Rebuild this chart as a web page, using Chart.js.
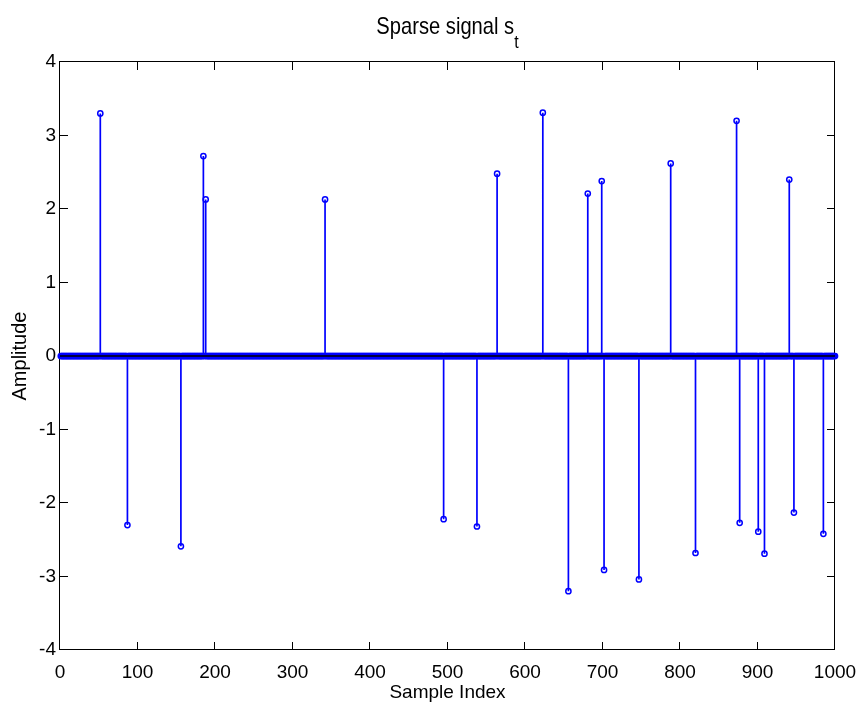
<!DOCTYPE html>
<html>
<head>
<meta charset="utf-8">
<script src="https://cdn.jsdelivr.net/npm/chart.js@4/dist/chart.umd.min.js"></script>
<style>
  body { margin: 0; background: #fff; }
  #wrap { position: relative; width: 860px; height: 713px; }
  #title {
    position: absolute; left: 60px; width: 775px; top: 12px;
    text-align: center; color: #000; line-height: 24px;
    font: 24px "Liberation Sans", Arial, sans-serif;
    transform: scaleX(0.84);
  }
  #title span { position: relative; top: 14px; font-size: 19px; }
</style>
</head>
<body>
<div id="wrap">
  <canvas id="stemChart" width="860" height="713"></canvas>
  <div id="title">Sparse signal s<span>t</span></div>
</div>
<script>
// signal length and the non-zero samples
const sampleCount = 1000;
const spikeIndex = [52, 87, 156, 185, 188, 342, 495, 538, 564, 623, 656, 681,
                    699, 702, 747, 788, 820, 873, 877, 901, 909, 941, 947, 985];
const spikeValue = [3.30, -2.30, -2.59, 2.72, 2.13, 2.13, -2.22, -2.32, 2.48, 3.31, -3.20, 2.21,
                    2.38, -2.91, -3.04, 2.62, -2.68, 3.20, -2.27, -2.39, -2.69, 2.40, -2.13, -2.42];
const xTicks = [0, 100, 200, 300, 400, 500, 600, 700, 800, 900, 1000];
const yTicks = [-4, -3, -2, -1, 0, 1, 2, 3, 4];

const signal = new Array(sampleCount).fill(0);
spikeIndex.forEach((k, j) => { signal[k - 1] = spikeValue[j]; });

const markerPoints = signal.map((v, i) => ({ x: i + 1, y: v }));
const stemPoints = [];
signal.forEach((v, i) => {
    if (v !== 0) {
        stemPoints.push({ x: i + 1, y: 0 }, { x: i + 1, y: v }, { x: i + 1, y: null });
    }
});

const sans = '"Liberation Sans", Arial, sans-serif';
const BLUE = '#0000ff';

// box with inward ticks on all four sides, like matlab
const matlabAxes = {
    id: 'matlabAxes',
    beforeDatasetsDraw(chart) {
        const { ctx, chartArea: a, scales: { x, y } } = chart;
        const len = 8;
        ctx.save();
        ctx.strokeStyle = '#000';
        ctx.lineWidth = 1;
        ctx.beginPath();
        xTicks.forEach(t => {
            const px = Math.round(x.getPixelForValue(t)) - 0.5;
            ctx.moveTo(px, a.bottom); ctx.lineTo(px, a.bottom - len);
            ctx.moveTo(px, a.top); ctx.lineTo(px, a.top + len);
        });
        yTicks.forEach(t => {
            const py = Math.round(y.getPixelForValue(t)) - 0.5;
            ctx.moveTo(a.left, py); ctx.lineTo(a.left + len, py);
            ctx.moveTo(a.right, py); ctx.lineTo(a.right - len, py);
        });
        ctx.stroke();
        ctx.strokeRect(a.left - 0.5, a.top - 0.5, a.right - a.left, a.bottom - a.top);
        ctx.restore();
    }
};

new Chart(document.getElementById('stemChart'), {
    type: 'scatter',
    data: {
        datasets: [
            {
                type: 'line',
                label: 'baseline',
                data: [{ x: 0, y: 0 }, { x: sampleCount, y: 0 }],
                borderColor: '#000',
                borderWidth: 1.5,
                pointRadius: 0,
                order: 0
            },
            {
                label: 's_t markers',
                data: markerPoints,
                pointStyle: 'circle',
                pointRadius: 2.6,
                pointBorderWidth: 1.5,
                pointBorderColor: BLUE,
                pointBackgroundColor: 'rgba(0,0,0,0)',
                clip: false,
                order: 1
            },
            {
                type: 'line',
                label: 's_t stems',
                data: stemPoints,
                borderColor: BLUE,
                borderWidth: 1.7,
                pointRadius: 0,
                spanGaps: false,
                order: 2
            }
        ]
    },
    options: {
        responsive: false,
        animation: false,
        events: [],
        layout: { padding: { top: 62, right: 25, left: 0, bottom: 0 } },
        plugins: {
            legend: { display: false },
            tooltip: { enabled: false }
        },
        scales: {
            x: {
                type: 'linear',
                min: 0,
                max: 1000,
                border: { display: false },
                grid: { display: false, drawTicks: false },
                afterBuildTicks: s => { s.ticks = xTicks.map(v => ({ value: v })); },
                ticks: {
                    autoSkip: false,
                    maxRotation: 0,
                    padding: 11,
                    color: '#000',
                    font: { family: sans, size: 19 },
                    callback: v => String(v)
                },
                title: {
                    display: true,
                    text: 'Sample Index',
                    color: '#000',
                    font: { family: sans, size: 19 },
                    padding: { top: 0, bottom: 9 }
                },
                afterFit: s => { s.height = 63; s.paddingLeft = 0; s.paddingRight = 0; }
            },
            y: {
                type: 'linear',
                min: -4,
                max: 4,
                border: { display: false },
                grid: { display: false, drawTicks: false },
                afterBuildTicks: s => { s.ticks = yTicks.map(v => ({ value: v })); },
                ticks: {
                    padding: 4,
                    color: '#000',
                    font: { family: sans, size: 19 },
                    callback: v => String(v)
                },
                title: {
                    display: true,
                    text: 'Amplitude',
                    color: '#000',
                    font: { family: sans, size: 20 },
                    padding: { top: 8, bottom: 0 }
                },
                afterFit: s => { s.width = 60; s.paddingTop = 0; s.paddingBottom = 0; }
            }
        }
    },
    plugins: [matlabAxes]
});
</script>
</body>
</html>
